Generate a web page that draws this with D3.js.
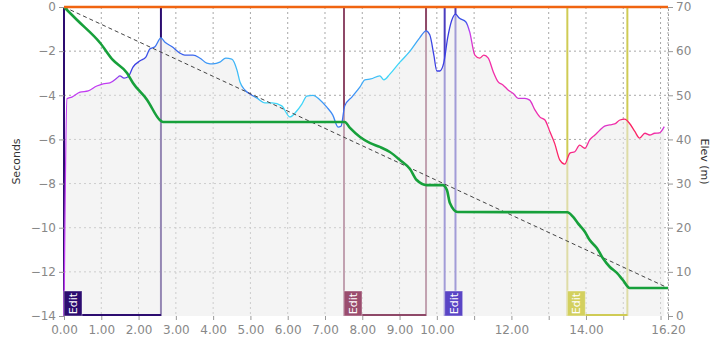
<!DOCTYPE html>
<html>
<head>
<meta charset="utf-8">
<script src="https://cdn.jsdelivr.net/npm/d3@7"></script>
<style>
body { margin: 0; background: #fff; }
text { font-family: "DejaVu Sans", sans-serif; }
</style>
</head>
<body>
<script>
// Elevation profile: distance (km), elevation (m)
var elevDist = [0.00, 0.08, 0.21, 0.43, 0.65, 0.88, 1.05, 1.23, 1.42, 1.50, 1.61, 1.72, 1.85, 2.04, 2.20, 2.30, 2.44, 2.60,
    2.71, 2.90, 3.10, 3.24, 3.46, 3.65, 3.83, 4.00, 4.18, 4.34, 4.50, 4.64, 4.72, 4.85, 4.99, 5.17, 5.39, 5.58, 5.84,
    6.06, 6.22, 6.38, 6.51, 6.68, 6.86, 7.05, 7.21, 7.35, 7.43, 7.53, 7.72, 7.94, 8.07, 8.23, 8.47, 8.58, 8.74, 9.01,
    9.28, 9.54, 9.71, 9.81, 9.92, 10.00, 10.08, 10.19, 10.29, 10.40, 10.50, 10.60, 10.78, 10.88, 11.02, 11.15, 11.26,
    11.38, 11.51, 11.64, 11.78, 11.91, 12.05, 12.18, 12.36, 12.49, 12.63, 12.76, 12.90, 13.03, 13.16, 13.30, 13.43,
    13.57, 13.70, 13.83, 13.97, 14.10, 14.24, 14.37, 14.50, 14.64, 14.77, 14.91, 15.04, 15.17, 15.31, 15.44, 15.58,
    15.71, 15.84, 15.97, 16.10];
var elevM = [0, 49.2, 49.6, 50.7, 51.0, 52.1, 52.6, 52.8, 53.9, 54.4, 53.9, 54.2, 56.4, 57.8, 58.7, 60.5, 61.0, 63.0,
    62.0, 61.0, 59.6, 59.1, 59.1, 58.4, 57.3, 57.1, 57.5, 58.4, 58.2, 55.7, 53.0, 51.2, 50.3, 49.4, 48.3, 48.3, 47.6,
    45.1, 46.2, 48.0, 49.8, 50.0, 49.0, 47.3, 45.5, 42.8, 43.0, 47.6, 49.6, 51.9, 53.5, 53.7, 54.4, 53.5, 54.8, 57.5,
    60.0, 63.0, 64.6, 63.7, 59.1, 55.5, 55.5, 57.5, 63.0, 67.0, 68.4, 67.5, 66.6, 64.4, 59.1, 58.4, 59.1,
    58.4, 55.4, 53.1, 52.3, 51.2, 50.4, 49.3, 49.3, 48.9, 46.7, 45.1, 44.4, 41.8, 39.1, 35.3, 34.4,
    36.9, 37.2, 38.7, 38.0, 39.9, 41.0, 42.1, 43.0, 43.3, 43.5, 44.4, 44.6, 43.6, 41.8, 40.3, 41.4,
    41.0, 41.4, 41.5, 42.9];
// Speed band per point (0 slow ... 5 fast), gives the line colour
var elevBand = [2, 2, 2, 2, 2, 2, 2, 2, 2.3, 2.5, 2.7, 2.9, 3, 3, 3.2, 3.4, 3.6, 4,
    3.8, 3.6, 3.5, 3.4, 3.5, 3.9, 4.2, 4.2, 4.3, 4.4, 4.5, 4.6, 4.8, 4, 3.4, 4.5, 5, 5, 5,
    5, 5, 5, 4.8, 4.6, 4.3, 4, 4, 3.8, 3.6, 3.6, 4, 4.3, 4.5, 4.6, 4.8, 5, 5, 5,
    4.7, 4.2, 3.6, 3.2, 3, 3, 3, 3, 3, 3, 3, 3.2, 3.4, 2, 1, 0.5, 0.8,
    1, 1, 1, 1, 1.2, 1.4, 1.6, 1.8, 1.6, 1.2, 1, 0.8, 0.5, 0.3, 0.2, 0.3,
    0.5, 0.8, 0.5, 0.6, 1, 1, 1.3, 1.5, 1.3, 1, 0.6, 0.3, 0.2, 0.2, 0.3, 0.6,
    0.8, 1, 1.2, 1.8];

// Cumulative time gap (s) along the distance
var gapDist = [0, 0.35, 0.97, 1.31, 1.69, 1.85, 2.23, 2.57, 2.65, 7.53, 7.67, 7.94, 8.20, 8.47, 8.74, 9.01, 9.28,
    9.46, 9.73, 10.16, 10.27, 10.35, 10.56, 13.50, 13.65, 13.78, 13.97, 14.10, 14.29, 14.45, 14.64, 14.83, 14.99,
    15.17, 16.20];
var gapSec = [0, -0.59, -1.63, -2.40, -2.99, -3.44, -4.21, -5.12, -5.21, -5.21, -5.48, -5.89, -6.16, -6.34, -6.57,
    -6.93, -7.34, -7.84, -8.07, -8.07, -8.29, -8.88, -9.29, -9.30, -9.50, -9.79, -10.18, -10.56, -10.92, -11.37,
    -11.78, -12.05, -12.37, -12.73, -12.73];

// Even-pace reference: start and finish
var paceDist = [0, 16.2];
var paceSec = [0, -12.73];

// Edited segments (km)
var editStart = [0, 7.51, 10.21, 13.5];
var editEnd = [2.6, 9.71, 10.5, 15.11];
var editColor = ["#2c0c70", "#8e4868", "#4b3dbf", "#cfcb55"];
var editLabelColor = ["#2c0c70", "#9a4d6e", "#5a45c5", "#d3d05e"];

// Axis ticks
var xTicks = [0, 1, 2, 3, 4, 5, 6, 7, 8, 9, 10, 11, 12, 13, 14, 15, 16, 16.2];
var xTickLabels = ["0.00", "1.00", "2.00", "3.00", "4.00", "5.00", "6.00", "7.00", "8.00", "9.00", "10.00", "",
    "12.00", "", "14.00", "", "", "16.20"];
var secTicks = [0, -2, -4, -6, -8, -10, -12, -14];
var elevTicks = [0, 10, 20, 30, 40, 50, 60, 70];

// Dimensions
var margin = { top: 7, right: 44, bottom: 24, left: 64 },
    width = 712 - margin.left - margin.right,
    height = 340 - margin.top - margin.bottom;

var svg = d3.select("body")
    .append("svg")
    .attr("width", width + margin.left + margin.right)
    .attr("height", height + margin.top + margin.bottom)
    .append("g")
    .attr("transform", "translate(" + margin.left + "," + margin.top + ")");

var x = d3.scaleLinear().domain([0, 16.2]).range([0, width]);
var ySec = d3.scaleLinear().domain([-14, 0]).range([height, 0]);
var yElev = d3.scaleLinear().domain([0, 70]).range([height, 0]);

var bandColor = d3.scaleLinear()
    .domain([0, 1, 2, 3, 4, 5])
    .range(["#ff1f4f", "#f22ea8", "#c23cf2", "#3b3fe3", "#3d8bf5", "#3fd6f8"]);

var elevData = elevDist.map(function (d, i) { return { d: d, e: elevM[i], b: elevBand[i] }; });
var gapData = gapDist.map(function (d, i) { return { d: d, s: gapSec[i] }; });

// Grid
svg.append("g").selectAll("line")
    .data(xTicks.filter(function (d) { return d > 0; }))
    .enter().append("line")
    .attr("x1", function (d) { return x(d); })
    .attr("x2", function (d) { return x(d); })
    .attr("y1", 0).attr("y2", height)
    .attr("stroke", "#a8a8a8")
    .attr("stroke-dasharray", "2,3");

svg.append("g").selectAll("line")
    .data(secTicks.filter(function (d) { return d < 0 && d > -14; }))
    .enter().append("line")
    .attr("x1", 0).attr("x2", width)
    .attr("y1", function (d) { return ySec(d); })
    .attr("y2", function (d) { return ySec(d); })
    .attr("stroke", "#a8a8a8")
    .attr("stroke-dasharray", "2,3");

// Edit segment verticals (under the elevation fill)
editStart.forEach(function (s, i) {
    [s, editEnd[i]].forEach(function (v) {
        svg.append("line")
            .attr("x1", x(v)).attr("x2", x(v))
            .attr("y1", 0).attr("y2", height)
            .attr("stroke", editColor[i])
            .attr("stroke-width", 2);
    });
});

// Elevation area
var area = d3.area()
    .x(function (d) { return x(d.d); })
    .y0(height)
    .y1(function (d) { return yElev(d.e); })
    .curve(d3.curveMonotoneX);

svg.append("path")
    .datum(elevData)
    .attr("fill", "#ebebeb")
    .attr("fill-opacity", 0.55)
    .attr("d", area);

// Edit segment bottoms
editStart.forEach(function (s, i) {
    svg.append("line")
        .attr("x1", x(s)).attr("x2", x(editEnd[i]))
        .attr("y1", height - 1).attr("y2", height - 1)
        .attr("stroke", editColor[i])
        .attr("stroke-width", 2);
});

// Elevation line coloured by speed band
var grad = svg.append("defs").append("linearGradient")
    .attr("id", "elevGrad")
    .attr("gradientUnits", "userSpaceOnUse")
    .attr("x1", 0).attr("x2", width)
    .attr("y1", 0).attr("y2", 0);

grad.selectAll("stop")
    .data(elevData)
    .enter().append("stop")
    .attr("offset", function (d) { return x(d.d) / width; })
    .attr("stop-color", function (d) { return bandColor(d.b); });

var elevLine = d3.line()
    .x(function (d) { return x(d.d); })
    .y(function (d) { return yElev(d.e); })
    .curve(d3.curveMonotoneX);

svg.append("path")
    .datum(elevData)
    .attr("fill", "none")
    .attr("stroke", "url(#elevGrad)")
    .attr("stroke-width", 1.3)
    .attr("d", elevLine);

// Even-pace reference line
svg.append("line")
    .attr("x1", x(paceDist[0])).attr("y1", ySec(paceSec[0]))
    .attr("x2", x(paceDist[1])).attr("y2", ySec(paceSec[1]))
    .attr("stroke", "#444")
    .attr("stroke-dasharray", "4,3");

// Cumulative gap
var gapLine = d3.line()
    .x(function (d) { return x(d.d); })
    .y(function (d) { return ySec(d.s); })
    .curve(d3.curveMonotoneX);

svg.append("path")
    .datum(gapData)
    .attr("fill", "none")
    .attr("stroke", "#17a03b")
    .attr("stroke-width", 2.6)
    .attr("d", gapLine);

// Zero line
svg.append("line")
    .attr("x1", 0).attr("x2", width)
    .attr("y1", ySec(0)).attr("y2", ySec(0))
    .attr("stroke", "#f06410")
    .attr("stroke-width", 2.5);

// Edit labels
editStart.forEach(function (s, i) {
    var g = svg.append("g")
        .attr("transform", "translate(" + x(s) + "," + (height - 25) + ")");
    g.append("rect")
        .attr("width", 18)
        .attr("height", 25)
        .attr("fill", editLabelColor[i])
        .attr("stroke", "#fff")
        .attr("stroke-opacity", 0.4);
    g.append("text")
        .attr("transform", "translate(13,12.5) rotate(-90)")
        .attr("text-anchor", "middle")
        .attr("fill", "#fff")
        .style("font-size", "11px")
        .text("Edit");
});

// Axes
var xAxis = svg.append("g")
    .attr("transform", "translate(0," + height + ")")
    .call(d3.axisBottom(x).tickValues(xTicks).tickSize(4).tickPadding(5.5)
        .tickFormat(function (d, i) { return xTickLabels[i]; }));
xAxis.select(".domain").remove();

var yAxis = svg.append("g")
    .call(d3.axisLeft(ySec).tickValues(secTicks).tickSize(5).tickPadding(3).tickFormat(d3.format("d")));
yAxis.select(".domain").remove();

var yAxisR = svg.append("g")
    .attr("transform", "translate(" + width + ",0)")
    .call(d3.axisRight(yElev).tickValues(elevTicks).tickSize(5).tickPadding(3));
yAxisR.select(".domain")
    .attr("stroke", "#999")
    .attr("stroke-dasharray", "2,3");

svg.selectAll(".tick line").attr("stroke", "#999");
svg.selectAll(".tick text")
    .attr("fill", "#888")
    .style("font-size", "12px");

// Axis titles
svg.append("text")
    .attr("transform", "translate(" + (-44) + "," + (height / 2) + ") rotate(-90)")
    .attr("text-anchor", "middle")
    .attr("fill", "#333")
    .style("font-size", "11px")
    .text("Seconds");

svg.append("text")
    .attr("transform", "translate(" + (width + 33) + "," + (height / 2) + ") rotate(90)")
    .attr("text-anchor", "middle")
    .attr("fill", "#333")
    .style("font-size", "11px")
    .text("Elev (m)");
</script>
</body>
</html>
